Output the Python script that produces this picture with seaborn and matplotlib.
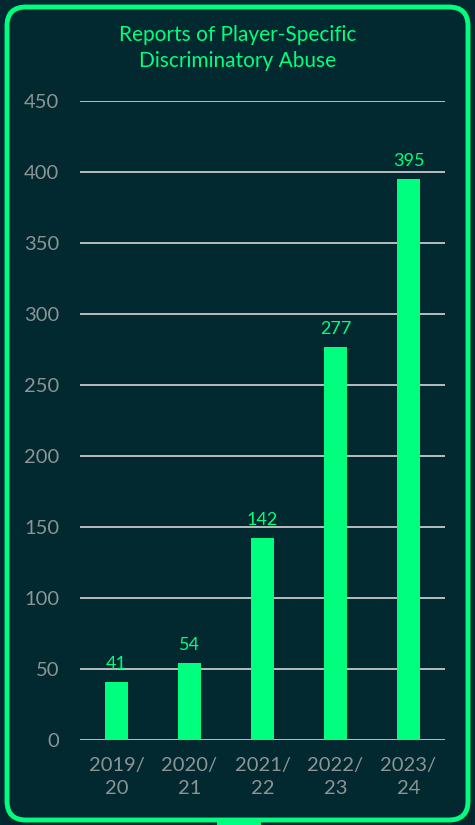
import pandas as pd
import numpy as np
import matplotlib
matplotlib.use("Agg")
import matplotlib.pyplot as plt
import seaborn as sns
from matplotlib.patches import FancyBboxPatch, Rectangle

# Data
seasons = ["2019/\n20", "2020/\n21", "2021/\n22", "2022/\n23", "2023/\n24"]
reports = [41, 54, 142, 277, 395]

df = pd.DataFrame({"Season": seasons, "Reports": reports})

bg = "#01292f"
green = "#00ff7f"
grey = "#8c9496"

sns.set_style("dark")
plt.rcParams["font.family"] = ["Lato", "DejaVu Sans"]

fig = plt.figure(figsize=(4.75, 8.25), dpi=100)
fig.patch.set_facecolor(bg)
ax = fig.add_axes([80 / 475, 1 - 740 / 825, 365 / 475, 639 / 825])
ax.set_facecolor(bg)

sns.barplot(data=df, x="Season", y="Reports", color=green, width=0.315,
            saturation=1, linewidth=0, edgecolor="none", ax=ax, zorder=3)

ax.set_ylim(0, 450)
ax.set_xlim(-0.5, 4.5)
ax.set_yticks(np.arange(0, 451, 50))
for y in np.arange(0, 451, 50):
    ax.axhline(y, color="#c8c8c8", linewidth=1.3, zorder=1)

# value labels above bars
for i, v in enumerate(reports):
    ax.text(i, v + 7, str(v), ha="center", va="bottom", color=green, fontsize=13)

ax.set_xlabel("")
ax.set_ylabel("")
ax.tick_params(axis="both", length=0, colors=grey, labelsize=14.5)
ax.tick_params(axis="y", pad=15)
ax.tick_params(axis="x", pad=12)
for lbl in ax.get_xticklabels():
    lbl.set_linespacing(1.45)
for s in ax.spines.values():
    s.set_visible(False)

fig.text(0.5, 1 - 48 / 825, "Reports of Player-Specific\nDiscriminatory Abuse",
         ha="center", va="center", color=green, fontsize=15, linespacing=1.4)

# Rounded border
border = FancyBboxPatch((7 / 475, 5 / 825), 461 / 475, 813 / 825,
                        boxstyle="round,pad=0,rounding_size=0.04",
                        transform=fig.transFigure, facecolor="none",
                        edgecolor=green, linewidth=3.5, mutation_aspect=475 / 825)
fig.patches.append(border)
tab = Rectangle((217 / 475, 0), 44 / 475, 6 / 825, transform=fig.transFigure,
                facecolor=green, edgecolor="none")
fig.patches.append(tab)

fig.savefig("out.png", dpi=100, facecolor=bg)
